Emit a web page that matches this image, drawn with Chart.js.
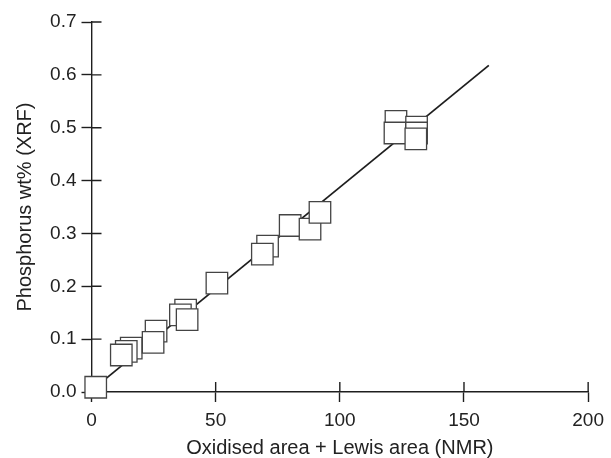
<!DOCTYPE html>
<html>
<head>
<meta charset="utf-8">
<script src="https://cdn.jsdelivr.net/npm/chart.js@4.4.1/dist/chart.umd.min.js"></script>
<style>
  html, body { margin: 0; padding: 0; background: #fff; }
  #wrap { width: 611px; height: 458px; }
</style>
</head>
<body>
<div id="wrap"><canvas id="phChart" width="611" height="458"></canvas></div>
<script>
// measured points, back ones first so the front squares are drawn last
const nmrArea = [1.7, 16, 14, 12, 26, 24.8, 37.9, 35.8, 38.5, 50.5, 70.9, 68.8, 80, 88, 92, 122.6, 122.2, 130.9, 130.9, 130.6];
const xrfWt   = [0.009, 0.083, 0.077, 0.070, 0.115, 0.094, 0.155, 0.146, 0.137, 0.206, 0.276, 0.261, 0.315, 0.308, 0.340, 0.512, 0.490, 0.501, 0.490, 0.479];

// fitted line end points
const fitX = [0, 160];
const fitY = [0.003, 0.618];

const xTicks = [0, 50, 100, 150, 200];
const yTicks = [0, 0.1, 0.2, 0.3, 0.4, 0.5, 0.6, 0.7];

const font = { family: 'Liberation Sans, Arial, sans-serif', size: 19 };
const titleFont = { family: 'Liberation Sans, Arial, sans-serif', size: 20, lineHeight: 1 };
const ink = '#1e1e1e';

// tick marks that cross the axis: draw the inner half too
const innerTicks = {
    id: 'innerTicks',
    beforeDatasetsDraw(chart) {
        const c = chart.ctx;
        const xs = chart.scales.x, ys = chart.scales.y;
        c.save();
        c.strokeStyle = ink;
        c.lineWidth = 1.4;
        c.beginPath();
        xTicks.forEach(v => {
            const px = xs.getPixelForValue(v);
            c.moveTo(px, ys.bottom);
            c.lineTo(px, ys.bottom - 10);
        });
        yTicks.forEach(v => {
            const py = ys.getPixelForValue(v);
            c.moveTo(xs.left, py);
            c.lineTo(xs.left + 10, py);
        });
        c.stroke();
        c.restore();
    }
};

new Chart(document.getElementById('phChart').getContext('2d'), {
    type: 'scatter',
    data: {
        datasets: [
            {
                label: 'samples',
                data: nmrArea.map((x, i) => ({ x: x, y: xrfWt[i] })),
                pointStyle: 'rect',
                pointRadius: 15.2,
                pointBackgroundColor: '#ffffff',
                pointBorderColor: '#444444',
                pointBorderWidth: 1.3,
                showLine: false,
                clip: false
            },
            {
                label: 'fit',
                type: 'line',
                data: fitX.map((x, i) => ({ x: x, y: fitY[i] })),
                borderColor: ink,
                borderWidth: 1.8,
                pointRadius: 0,
                fill: false,
                clip: false
            }
        ]
    },
    options: {
        responsive: false,
        animation: false,
        layout: { padding: { left: 0, right: 21, top: 22, bottom: 0 } },
        scales: {
            x: {
                type: 'linear',
                min: 0,
                max: 200,
                afterBuildTicks: s => { s.ticks = xTicks.map(v => ({ value: v })); },
                afterFit: s => { s.height = 66; },
                border: { display: true, color: ink, width: 1.4 },
                grid: { drawOnChartArea: false, drawTicks: true, tickLength: 10, tickColor: ink, tickWidth: 1.4 },
                ticks: { font: font, color: '#222', padding: 7, maxRotation: 0 },
                title: {
                    display: true,
                    text: 'Oxidised area + Lewis area (NMR)',
                    font: titleFont,
                    color: '#222',
                    padding: { top: 0, bottom: 0 }
                }
            },
            y: {
                type: 'linear',
                min: 0,
                max: 0.7,
                afterBuildTicks: s => { s.ticks = yTicks.map(v => ({ value: v })); },
                afterFit: s => { s.width = 91.5; },
                border: { display: true, color: ink, width: 1.4 },
                grid: { drawOnChartArea: false, drawTicks: true, tickLength: 10, tickColor: ink, tickWidth: 1.4 },
                ticks: { font: font, color: '#222', padding: 5, callback: v => v.toFixed(1) },
                title: {
                    display: true,
                    text: 'Phosphorus wt% (XRF)',
                    font: titleFont,
                    color: '#222',
                    padding: { top: 15, bottom: 0 }
                }
            }
        },
        plugins: {
            legend: { display: false },
            tooltip: { enabled: false }
        }
    },
    plugins: [innerTicks]
});
</script>
</body>
</html>
